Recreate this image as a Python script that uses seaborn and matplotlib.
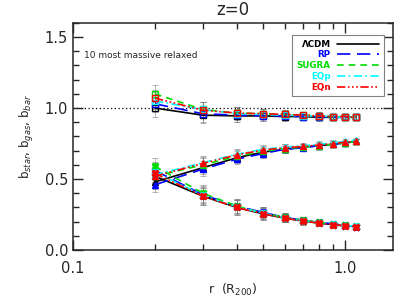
import numpy as np
import pandas as pd
import matplotlib
matplotlib.use("Agg")
import matplotlib.pyplot as plt
import seaborn as sns
from matplotlib.ticker import FixedLocator, NullFormatter, MultipleLocator
from matplotlib.lines import Line2D

sns.set_theme(style="ticks")
plt.rcParams['font.family'] = ['DejaVu Sans']

r = [0.2, 0.3, 0.4, 0.5, 0.6, 0.7, 0.8, 0.9, 1.0, 1.1]
models = ["ΛCDM", "RP", "SUGRA", "EQp", "EQn"]

b_bar = {
    "ΛCDM":  [1.00, 0.95, 0.945, 0.945, 0.94, 0.94, 0.935, 0.935, 0.935, 0.935],
    "RP":    [1.03, 0.96, 0.95, 0.945, 0.945, 0.94, 0.94, 0.935, 0.935, 0.935],
    "SUGRA": [1.10, 0.99, 0.965, 0.96, 0.955, 0.95, 0.945, 0.94, 0.94, 0.935],
    "EQp":   [1.05, 0.99, 0.96, 0.955, 0.95, 0.945, 0.945, 0.94, 0.935, 0.935],
    "EQn":   [1.07, 0.985, 0.965, 0.96, 0.955, 0.95, 0.945, 0.94, 0.94, 0.935],
}
b_gas = {
    "ΛCDM":  [0.48, 0.58, 0.65, 0.69, 0.71, 0.725, 0.735, 0.745, 0.755, 0.765],
    "RP":    [0.46, 0.57, 0.64, 0.68, 0.71, 0.72, 0.735, 0.745, 0.755, 0.765],
    "SUGRA": [0.52, 0.60, 0.66, 0.695, 0.715, 0.725, 0.735, 0.745, 0.755, 0.765],
    "EQp":   [0.53, 0.615, 0.675, 0.71, 0.725, 0.735, 0.745, 0.755, 0.765, 0.775],
    "EQn":   [0.52, 0.61, 0.67, 0.705, 0.72, 0.73, 0.74, 0.75, 0.76, 0.765],
}
b_star = {
    "ΛCDM":  [0.52, 0.38, 0.30, 0.255, 0.225, 0.205, 0.19, 0.18, 0.17, 0.165],
    "RP":    [0.56, 0.39, 0.31, 0.265, 0.23, 0.21, 0.195, 0.185, 0.175, 0.165],
    "SUGRA": [0.59, 0.40, 0.31, 0.26, 0.23, 0.21, 0.195, 0.185, 0.175, 0.17],
    "EQp":   [0.55, 0.385, 0.305, 0.26, 0.228, 0.208, 0.193, 0.183, 0.173, 0.168],
    "EQn":   [0.54, 0.38, 0.30, 0.255, 0.225, 0.205, 0.19, 0.18, 0.17, 0.165],
}
err_bar = [0.06, 0.055, 0.045, 0.035, 0.03, 0.025, 0.025, 0.02, 0.02, 0.02]
err_gas = [0.05, 0.045, 0.035, 0.03, 0.025, 0.02, 0.02, 0.02, 0.015, 0.015]
err_star = [0.06, 0.06, 0.05, 0.04, 0.03, 0.025, 0.02, 0.02, 0.015, 0.015]

colors = {"ΛCDM": "black", "RP": "blue", "SUGRA": "#00dd00", "EQp": "cyan", "EQn": "red"}
dashes = {"ΛCDM": (None, None), "RP": (8, 4), "SUGRA": (4, 3), "EQp": (5, 2, 1, 2),
          "EQn": (5, 1.5, 1, 1.5, 1, 1.5, 1, 1.5)}

fig = plt.figure(figsize=(4.15, 2.97), dpi=100)
ax = fig.add_axes([0.176, 0.158, 0.771, 0.765])

groups = [(b_bar, err_bar, "s", "none"), (b_gas, err_gas, "^", None), (b_star, err_star, "X", None)]
for data, err, mk, fc in groups:
    for m in models:
        ax.errorbar(r, data[m], yerr=err, fmt="none", ecolor="0.45", elinewidth=0.6,
                    capsize=2, capthick=0.6, alpha=0.6, zorder=1)
for data, err, mk, fc in groups:
    for i, m in enumerate(models):
        df = pd.DataFrame({"r": r, "b": data[m]})
        kw = dict(markerfacecolor=fc) if fc else {}
        sns.lineplot(data=df, x="r", y="b", ax=ax, color=colors[m], lw=1.2,
                     marker=mk, markersize=4.5, markeredgecolor=colors[m], markeredgewidth=1.0,
                     legend=False, zorder=3 + i, **kw)
        line = ax.lines[-1]
        if m != "ΛCDM":
            line.set_dashes(dashes[m])

ax.axhline(1.0, color="black", ls=(0, (1, 2)), lw=0.9, zorder=0)

ax.set_xscale("log")
ax.set_xlim(0.1, 1.5)
ax.set_ylim(0, 1.6)
ax.set_xticks([0.1, 1.0])
ax.set_xticklabels(["0.1", "1.0"])
ax.xaxis.set_minor_locator(FixedLocator([0.2, 0.3, 0.4, 0.5, 0.6, 0.7, 0.8, 0.9]))
ax.xaxis.set_minor_formatter(NullFormatter())
ax.yaxis.set_major_locator(MultipleLocator(0.5))
ax.yaxis.set_minor_locator(MultipleLocator(0.1))
ax.set_yticklabels([f"{v:.1f}" for v in ax.get_yticks()])
ax.tick_params(which="both", direction="in", top=True, right=True, labelsize=10.5, width=1.0)
ax.tick_params(which="major", length=7)
ax.tick_params(which="minor", length=4)
ax.tick_params(axis="x", pad=8)
for s in ax.spines.values():
    s.set_linewidth(1.1)

ax.set_xlabel("r  (R$_{200}$)", fontsize=9)
ax.set_ylabel("b$_{star}$, b$_{gas}$, b$_{bar}$", fontsize=8.5, labelpad=6)
ax.set_title("z=0", fontsize=12, pad=6)
ax.text(0.035, 0.845, "10 most massive relaxed", transform=ax.transAxes, fontsize=6.5)

handles = []
for m in models:
    h = Line2D([], [], color=colors[m], lw=1.2)
    if m != "ΛCDM":
        h.set_dashes(dashes[m])
    handles.append(h)
leg = ax.legend(handles, models, loc="upper right", bbox_to_anchor=(0.985, 0.965),
                markerfirst=False, fontsize=6.3, handlelength=4.8, labelspacing=0.2,
                borderpad=0.5, fancybox=False, framealpha=1, edgecolor="0.5",
                labelcolor=[colors[m] for m in models], handletextpad=0.8)
leg.get_frame().set_linewidth(0.8)
for t in leg.get_texts():
    t.set_ha("right")
    t.set_fontweight("bold")

fig.savefig("out.png", dpi=100)
